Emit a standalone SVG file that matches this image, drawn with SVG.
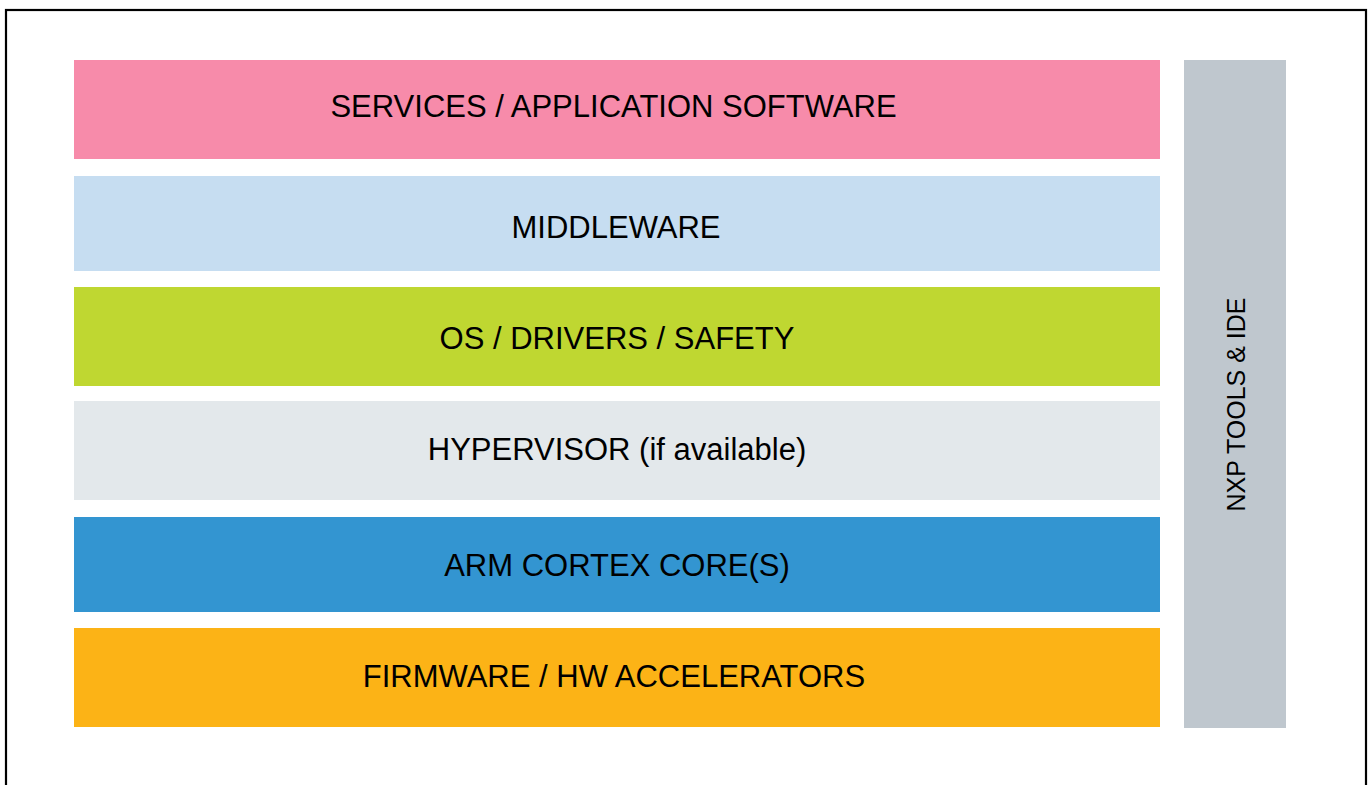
<svg xmlns="http://www.w3.org/2000/svg" width="1369" height="785" viewBox="0 0 1369 785">
<style>
.lbl{font-family:"Liberation Sans",Arial,sans-serif;font-size:31px;fill:#000;text-anchor:middle}
</style>
<rect x="0" y="0" width="1369" height="785" fill="#fff"/>
<rect x="6" y="10" width="1360" height="800" fill="none" stroke="#000" stroke-width="2.2"/>
<g id="services"><rect x="74" y="60" width="1086" height="99" fill="#F78BAA"/><text class="lbl" x="613.5" y="117">SERVICES / APPLICATION SOFTWARE</text></g>
<g id="middleware"><rect x="74" y="176" width="1086" height="95" fill="#C6DDF1"/><text class="lbl" x="616" y="238">MIDDLEWARE</text></g>
<g id="os"><rect x="74" y="287" width="1086" height="99" fill="#BFD731"/><text class="lbl" x="617" y="349">OS / DRIVERS / SAFETY</text></g>
<g id="hypervisor"><rect x="74" y="401" width="1086" height="99" fill="#E3E8EB"/><text class="lbl" x="617" y="460">HYPERVISOR (if available)</text></g>
<g id="arm"><rect x="74" y="517" width="1086" height="95" fill="#3395D1"/><text class="lbl" x="617" y="576">ARM CORTEX CORE(S)</text></g>
<g id="firmware"><rect x="74" y="628" width="1086" height="99" fill="#FCB316"/><text class="lbl" x="614" y="687">FIRMWARE / HW ACCELERATORS</text></g>
<g id="tools"><rect x="1184" y="60" width="102" height="668" fill="#BFC7CE"/><text class="lbl" transform="translate(1245,404.5) rotate(-90)" x="0" y="0" style="font-size:25px">NXP TOOLS &amp; IDE</text></g>
<g id="connectors"/>
</svg>
